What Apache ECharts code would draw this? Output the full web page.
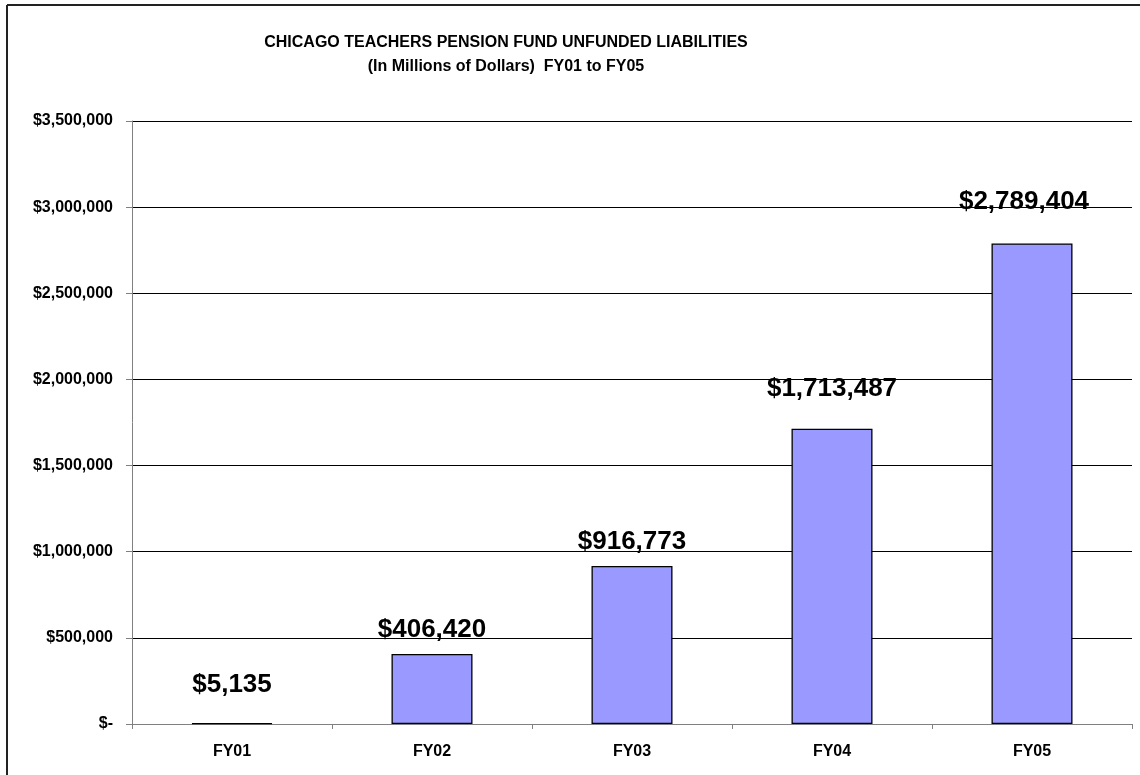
<!DOCTYPE html>
<html>
<head>
<meta charset="utf-8">
<script src="https://cdn.jsdelivr.net/npm/echarts@6/dist/echarts.min.js"></script>
<style>html,body{margin:0;padding:0;background:#fff;}#c{width:1140px;height:775px;}</style>
</head>
<body>
<div id="c"></div>
<script>
const titleLines = ['CHICAGO TEACHERS PENSION FUND UNFUNDED LIABILITIES', '(In Millions of Dollars)  FY01 to FY05'];
const categories = ['FY01', 'FY02', 'FY03', 'FY04', 'FY05'];
const liabilities = [5135, 406420, 916773, 1713487, 2789404];
const yTicks = [0, 500000, 1000000, 1500000, 2000000, 2500000, 3000000, 3500000];

const FONT = '"Liberation Sans", Arial, sans-serif';
const fmt = v => v === 0 ? '$-' : '$' + v.toLocaleString('en-US');
const labelGaps = [25, 11, 11, 27, 29];
const labelShift = [0, 0, 0, 0, -8];

const chart = echarts.init(document.getElementById('c'));
chart.setOption({
  animation: false,
  backgroundColor: '#fff',
  title: {
    text: titleLines.join('\n'),
    left: 501, top: 26, textAlign: 'center',
    textStyle: { fontFamily: FONT, fontWeight: 'bold', fontSize: 16, lineHeight: 24, color: '#000' }
  },
  grid: { left: 132, right: 8, top: 121, bottom: 51, containLabel: false },
  xAxis: {
    type: 'category', data: categories, boundaryGap: true,
    axisLine: { lineStyle: { color: '#808080', width: 1 } },
    axisTick: { show: true, alignWithLabel: false, length: 5, lineStyle: { color: '#808080' } },
    axisLabel: { fontFamily: FONT, fontWeight: 'bold', fontSize: 16, color: '#000', margin: 20 }
  },
  yAxis: {
    type: 'value', min: yTicks[0], max: yTicks[yTicks.length - 1], interval: yTicks[1] - yTicks[0],
    axisLine: { show: true, lineStyle: { color: '#808080', width: 1 } },
    axisTick: { show: true, length: 6, lineStyle: { color: '#808080' } },
    axisLabel: { formatter: fmt, fontFamily: FONT, fontWeight: 'bold', fontSize: 16, color: '#000', margin: 19 },
    splitLine: { show: true, lineStyle: { color: '#000', width: 1 } }
  },
  series: [{
    type: 'bar', barWidth: 81,
    data: liabilities.map((v, i) => ({
      value: v,
      label: { distance: labelGaps[i], offset: [labelShift[i], 0] }
    })),
    itemStyle: { color: '#9999FF', borderColor: '#000', borderWidth: 1.3 },
    label: {
      show: true, position: 'top', formatter: p => fmt(p.value),
      fontFamily: FONT, fontWeight: 'bold', fontSize: 26, lineHeight: 26, color: '#000'
    }
  }],
  graphic: [
    { type: 'line', shape: { x1: 7, y1: 5, x2: 1140, y2: 5 }, style: { stroke: '#222', lineWidth: 2 } },
    { type: 'line', shape: { x1: 7, y1: 5, x2: 7, y2: 775 }, style: { stroke: '#222', lineWidth: 2 } }
  ]
});
</script>
</body>
</html>
